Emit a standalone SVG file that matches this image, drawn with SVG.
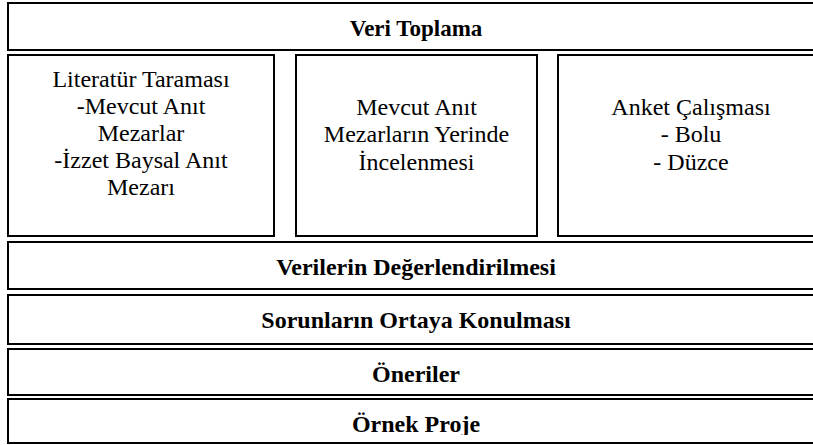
<svg xmlns="http://www.w3.org/2000/svg" width="813" height="445" viewBox="0 0 813 445">
<defs>
<clipPath id="clipLast"><rect x="0" y="398" width="813" height="37"/></clipPath>
</defs>
<rect x="0" y="0" width="813" height="445" fill="#fff"/>
<g id="connectors"></g>
<g fill="#fff" stroke="#000" stroke-width="2">
<rect id="box-veri" x="8" y="3" width="820" height="47"/>
<rect id="box-lit" x="8" y="55" width="266" height="181"/>
<rect id="box-yer" x="296" y="55" width="241" height="181"/>
<rect id="box-anket" x="558" y="55" width="270" height="181"/>
<rect id="box-deg" x="8" y="242" width="820" height="47"/>
<rect id="box-sor" x="8" y="295" width="820" height="49"/>
<rect id="box-oner" x="8" y="349" width="820" height="46"/>
<rect id="box-ornek" x="8" y="399" width="820" height="44"/>
</g>
<g id="veri-toplama"><text x="416" y="36" text-anchor="middle" style="font-family:'Liberation Serif','Times New Roman',Tinos,serif;font-weight:bold;font-size:23px">Veri Toplama</text></g>
<g id="literatur">
<text x="141" y="87" text-anchor="middle" style="font-family:'Liberation Serif','Times New Roman',Tinos,serif;font-size:24px">Literat&#252;r Taramas&#305;</text>
<text x="141" y="114" text-anchor="middle" style="font-family:'Liberation Serif','Times New Roman',Tinos,serif;font-size:24px">-Mevcut An&#305;t</text>
<text x="141" y="141" text-anchor="middle" style="font-family:'Liberation Serif','Times New Roman',Tinos,serif;font-size:24px">Mezarlar</text>
<text x="141" y="168" text-anchor="middle" style="font-family:'Liberation Serif','Times New Roman',Tinos,serif;font-size:24px">-&#304;zzet Baysal An&#305;t</text>
<text x="141" y="195" text-anchor="middle" style="font-family:'Liberation Serif','Times New Roman',Tinos,serif;font-size:24px">Mezar&#305;</text></g>
<g id="yerinde">
<text x="416.5" y="115" text-anchor="middle" style="font-family:'Liberation Serif','Times New Roman',Tinos,serif;font-size:24px">Mevcut An&#305;t</text>
<text x="416.5" y="142" text-anchor="middle" style="font-family:'Liberation Serif','Times New Roman',Tinos,serif;font-size:24px">Mezarlar&#305;n Yerinde</text>
<text x="416.5" y="170" text-anchor="middle" style="font-family:'Liberation Serif','Times New Roman',Tinos,serif;font-size:24px">&#304;ncelenmesi</text></g>
<g id="anket">
<text x="691" y="115" text-anchor="middle" style="font-family:'Liberation Serif','Times New Roman',Tinos,serif;font-size:24px">Anket &#199;al&#305;&#351;mas&#305;</text>
<text x="691" y="142" text-anchor="middle" style="font-family:'Liberation Serif','Times New Roman',Tinos,serif;font-size:24px">- Bolu</text>
<text x="691" y="170" text-anchor="middle" style="font-family:'Liberation Serif','Times New Roman',Tinos,serif;font-size:24px">- D&#252;zce</text></g>
<g id="degerlendirme"><text x="416" y="275" text-anchor="middle" style="font-family:'Liberation Serif','Times New Roman',Tinos,serif;font-weight:bold;font-size:24px">Verilerin De&#287;erlendirilmesi</text></g>
<g id="sorunlar"><text x="416" y="328" text-anchor="middle" style="font-family:'Liberation Serif','Times New Roman',Tinos,serif;font-weight:bold;font-size:24px">Sorunlar&#305;n Ortaya Konulmas&#305;</text></g>
<g id="oneriler"><text x="416" y="382" text-anchor="middle" style="font-family:'Liberation Serif','Times New Roman',Tinos,serif;font-weight:bold;font-size:24px">&#214;neriler</text></g>
<g id="ornek"><text x="416" y="432" text-anchor="middle" clip-path="url(#clipLast)" style="font-family:'Liberation Serif','Times New Roman',Tinos,serif;font-weight:bold;font-size:24px">&#214;rnek Proje</text></g>
</svg>
